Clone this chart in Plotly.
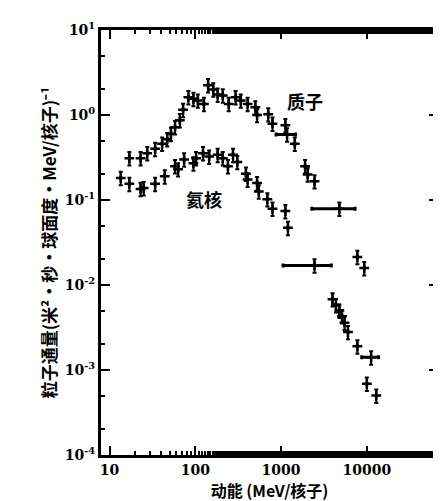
import plotly.graph_objects as go

# Proton data (kinetic energy MeV/nucleon, flux)
proton_E = [17, 23, 27.5, 34, 41, 47, 52, 58, 66, 72, 83, 95, 107, 126, 141, 162, 182, 209, 245, 295,
            339, 407, 501, 525, 708, 794, 1122, 1175, 1445, 1905, 2042, 2455, 4786, 7762, 9333, 11220]
proton_F = [0.31, 0.31, 0.355, 0.40, 0.46, 0.52, 0.60, 0.72, 0.87, 1.15, 1.62, 1.55, 1.48, 1.35, 2.24, 2.0,
            1.74, 1.70, 1.35, 1.62, 1.48, 1.35, 1.23, 1.0, 1.02, 0.79, 0.76, 0.59, 0.46, 0.25, 0.20, 0.166,
            0.079, 0.0214, 0.0158, 0.00141]
proton_xerr = [0, 0, 0, 0, 0, 0, 0, 0, 0, 0, 0, 0, 0, 0, 0, 0, 0, 0, 0, 0,
               0, 0, 0, 0, 0, 0, 0, 300, 0, 0, 0, 0, 2500, 0, 0, 2500]

# Helium data
helium_E = [13.5, 17, 23, 25, 34, 44, 58, 63, 74, 95, 102, 123, 145, 182, 209, 240, 275, 309, 389, 407,
            525, 550, 692, 794, 1122, 1202, 2455, 3981, 4365, 4786, 5129, 5495, 6026, 7762, 10000, 12882]
helium_F = [0.182, 0.155, 0.135, 0.138, 0.155, 0.19, 0.25, 0.23, 0.30, 0.27, 0.31, 0.355, 0.324, 0.34, 0.31,
            0.25, 0.34, 0.28, 0.204, 0.174, 0.158, 0.126, 0.102, 0.079, 0.074, 0.047, 0.017, 0.0068,
            0.0058, 0.0050, 0.0043, 0.0036, 0.0028, 0.0019, 0.00069, 0.0005]
helium_xerr = [0] * 26 + [1400] + [0] * 9

x_tickvals = [10, 100, 1000, 10000]
x_ticktext = ["10", "100", "1000", "10000"]
y_tickvals = [10, 1, 0.1, 0.01, 0.001, 0.0001]
y_ticktext = ["10<sup>1</sup>", "10<sup>0</sup>", "10<sup>-1</sup>", "10<sup>-2</sup>",
              "10<sup>-3</sup>", "10<sup>-4</sup>"]

fig = go.Figure()
for E, F, xe in [(proton_E, proton_F, proton_xerr), (helium_E, helium_F, helium_xerr)]:
    fig.add_trace(go.Scatter(
        x=E, y=F, mode="markers",
        marker=dict(symbol="cross-thin", size=7, color="black", line=dict(width=2.5, color="black")),
        error_y=dict(type="percent", value=18, color="black", thickness=2, width=2),
        error_x=dict(type="data", array=xe, color="black", thickness=3, width=2),
        showlegend=False,
    ))

fig.add_annotation(x=3.28, y=0.17, xref="x", yref="y", text="<b>质子</b>", showarrow=False,
                   font=dict(family="Noto Sans CJK SC", size=18, color="black"))
fig.add_annotation(x=2.10, y=-0.99, xref="x", yref="y", text="<b>氦核</b>", showarrow=False,
                   font=dict(family="Noto Sans CJK SC", size=18, color="black"))

axis_common = dict(
    type="log", showline=True, linecolor="black", linewidth=3, mirror="allticks",
    ticks="inside", ticklen=9, tickwidth=2, tickcolor="black", showgrid=False, zeroline=False,
    minor=dict(ticks="inside", ticklen=4, tickwidth=1.5, tickcolor="black", showgrid=False),
    tickfont=dict(family="DejaVu Serif", size=14, color="black", weight="bold"),
)

fig.update_xaxes(range=[0.9, 4.83], tickvals=x_tickvals, ticktext=x_ticktext,
                 title=dict(text="<b>动能 (MeV/核子)</b>", standoff=6,
                            font=dict(family="Noto Sans CJK SC", size=16, color="black")),
                 **axis_common)
fig.update_yaxes(range=[-4, 1], tickvals=y_tickvals, ticktext=y_ticktext,
                 title=dict(text="<b>粒子通量(米²·秒·球面度·MeV/核子)⁻¹</b>", standoff=4,
                            font=dict(family="Noto Sans CJK SC", size=17, color="black")),
                 **axis_common)

fig.update_layout(
    width=441, height=501,
    margin=dict(l=93, r=8, t=22, b=54),
    paper_bgcolor="white", plot_bgcolor="white",
    font=dict(family="DejaVu Serif", color="black"),
)

fig.write_html("out.html")
